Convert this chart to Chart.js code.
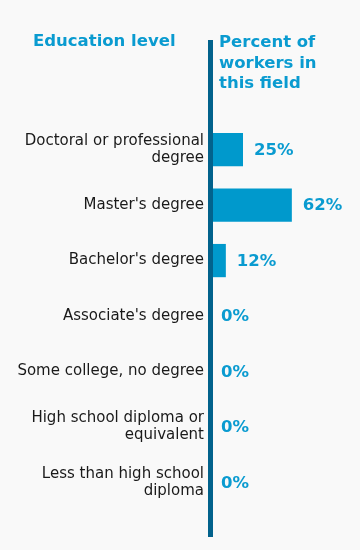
<!DOCTYPE html>
<html>
<head>
<meta charset="utf-8">
<script src="https://cdn.jsdelivr.net/npm/chart.js@4/dist/chart.umd.min.js"></script>
<style>
  body { margin: 0; background: #f9f9f9; font-family: "DejaVu Sans", Verdana, sans-serif; }
  .wrap { position: relative; width: 360px; height: 550px; }
  .head { position: absolute; color: #0a9bd0; font-weight: bold; font-size: 16.5px; line-height: 20.5px; }
  #headLeft { left: 33px; top: 31px; }
  #headRight { left: 219px; top: 32px; }
</style>
</head>
<body>
<div class="wrap">
  <canvas id="eduChart" width="360" height="550"></canvas>
  <div class="head" id="headLeft">Education level</div>
  <div class="head" id="headRight">Percent of<br>workers in<br>this field</div>
</div>
<script>
const categories = [
    ['Doctoral or professional', 'degree'],
    "Master's degree",
    "Bachelor's degree",
    "Associate's degree",
    'Some college, no degree',
    ['High school diploma or', 'equivalent'],
    ['Less than high school', 'diploma']
]
const percentValues = [25, 62, 12, 0, 0, 0, 0]

// Vertical axis line plus the value labels at bar ends
const barExtras = {
    id: 'barExtras',
    afterDatasetsDraw(chart) {
        const ctx = chart.ctx
        const x0 = chart.scales.x.getPixelForValue(0)
        ctx.save()
        ctx.fillStyle = '#02628c'
        ctx.fillRect(x0 - 2, 40, 5, 497)

        ctx.fillStyle = '#0a9bd0'
        ctx.font = 'bold 16.5px "DejaVu Sans", Verdana, sans-serif'
        ctx.textBaseline = 'middle'
        ctx.textAlign = 'left'
        chart.getDatasetMeta(0).data.forEach((bar, i) => {
            ctx.fillText(percentValues[i] + '%', bar.x + 11, bar.y + 1)
        })
        ctx.restore()
    }
}

const eduChart = new Chart(document.getElementById('eduChart'), {
    type: 'bar',
    data: {
        labels: categories,
        datasets: [{
            data: percentValues,
            backgroundColor: '#0099cc',
            borderWidth: 0,
            categoryPercentage: 0.6,
            barPercentage: 1
        }]
    },
    options: {
        indexAxis: 'y',
        responsive: false,
        animation: false,
        layout: { padding: { top: 122, bottom: 40, right: 18, left: 0 } },
        plugins: {
            legend: { display: false },
            tooltip: { enabled: false }
        },
        scales: {
            x: {
                display: false,
                min: 0,
                max: 100
            },
            y: {
                afterFit: (scale) => { scale.width = 210 },
                grid: { display: false, drawTicks: false },
                border: { display: false },
                ticks: {
                    color: '#1a1a1a',
                    padding: 6,
                    font: { family: '"DejaVu Sans", Verdana, sans-serif', size: 15, lineHeight: 1.15 }
                }
            }
        }
    },
    plugins: [barExtras]
});
</script>
</body>
</html>
